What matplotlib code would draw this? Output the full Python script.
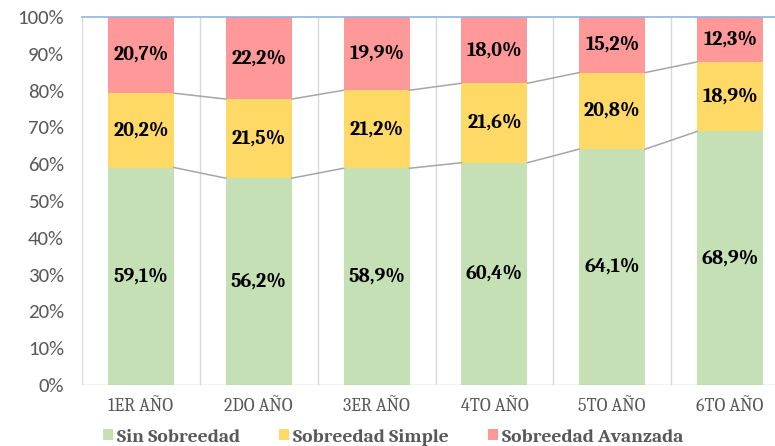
import numpy as np
import matplotlib.pyplot as plt

# datos (porcentajes)
cursos = ["1ER AÑO", "2DO AÑO", "3ER AÑO", "4TO AÑO", "5TO AÑO", "6TO AÑO"]
sin_sobreedad = [59.1, 56.2, 58.9, 60.4, 64.1, 68.9]
sobreedad_simple = [20.2, 21.5, 21.2, 21.6, 20.8, 18.9]
sobreedad_avanzada = [20.7, 22.2, 19.9, 18.0, 15.2, 12.3]

series = [
    ("Sin Sobreedad", sin_sobreedad, "#C5E0B4"),
    ("Sobreedad Simple", sobreedad_simple, "#FFD966"),
    ("Sobreedad Avanzada", sobreedad_avanzada, "#FF9999"),
]

W = 0.56
SERIF = ["Caladea", "DejaVu Serif"]
SANS = ["Carlito", "DejaVu Sans"]


def fmt(v):
    return f"{v:.1f}%".replace(".", ",")


def main():
    fig = plt.figure(figsize=(7.75, 4.46), dpi=100)
    ax = fig.add_axes([82 / 775, 61 / 446, 707 / 775, 368 / 446])

    x = np.arange(len(cursos))
    bottom = np.zeros(len(cursos))
    handles = []
    for name, vals, color in series:
        vals = np.array(vals) / 100
        b = ax.bar(x, vals, W, bottom=bottom, color=color, label=name, zorder=2)
        handles.append(b)
        for xi, v, b0 in zip(x, vals, bottom):
            ax.text(xi, b0 + v / 2, fmt(v * 100), ha="center", va="center",
                    family=SERIF, fontweight="bold", fontsize=14.5,
                    color="black", zorder=4)
        bottom = bottom + vals
        # lineas de serie entre barras
        if name != "Sobreedad Avanzada":
            for i in range(len(cursos) - 1):
                ax.plot([x[i] + W / 2, x[i + 1] - W / 2], [bottom[i], bottom[i + 1]],
                        color="#A6A6A6", lw=1.1, zorder=3)

    ax.set_xlim(-0.5, len(cursos) - 0.5)
    ax.set_ylim(0, 1)
    yt = np.arange(0, 1.01, 0.1)
    ax.set_yticks(yt)
    ax.set_yticklabels([f"{int(round(t * 100))}%" for t in yt],
                       family=SANS, fontsize=15, color="#595959")
    ax.set_xticks(x)
    ax.set_xticklabels(cursos, family=SERIF, fontsize=13, color="#595959")
    ax.tick_params(axis="both", length=0)
    ax.tick_params(axis="x", pad=9)
    ax.tick_params(axis="y", pad=13)

    for s in ax.spines.values():
        s.set_visible(False)
    for b in np.arange(-0.5, len(cursos), 1.0):
        ax.axvline(b, color="#D9D9D9", lw=1, zorder=1)
    ax.axhline(0, color="#BFBFBF", lw=1, zorder=3)
    ax.axhline(1, color="#8EB4E3", lw=1.2, zorder=3, clip_on=False)

    fig.legend(handles=handles, loc="center", bbox_to_anchor=(393 / 775, 9 / 446),
               ncol=3, frameon=False, handlelength=0.52, handleheight=0.52,
               handletextpad=0.2, columnspacing=2.0, borderpad=0,
               prop={"family": SERIF, "weight": "bold", "size": 14},
               labelcolor="#595959")

    fig.savefig("out.png", dpi=100)


if __name__ == "__main__":
    main()
